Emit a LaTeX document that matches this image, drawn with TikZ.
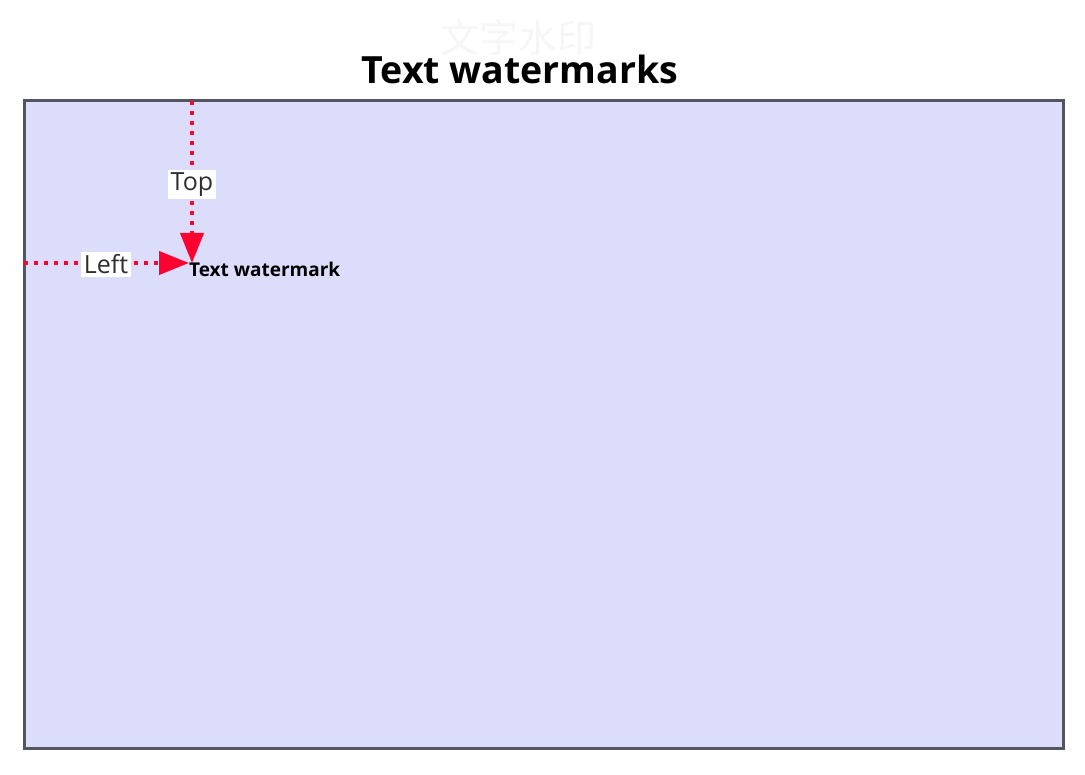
\documentclass[tikz,border=0pt]{standalone}
\usepackage{fontspec}
\setmainfont{Open Sans}
\newfontfamily\cjkf{Noto Sans CJK SC}
\usetikzlibrary{arrows.meta}
\definecolor{panelfill}{HTML}{DCDCFB}
\definecolor{panelborder}{HTML}{55555F}
\definecolor{markred}{HTML}{FF0030}
\definecolor{labeltext}{HTML}{2E2E2E}
\definecolor{ghost}{HTML}{F6F6F6}
\tikzset{
  panel/.style={draw=panelborder, fill=panelfill, line width=3pt},
  guide/.style={draw=markred, line width=4pt, dash pattern=on 4pt off 6pt, -{Triangle[length=30pt,width=23pt,fill=markred]}},
  guidelabel/.style={fill=white, text=labeltext, font=\fontsize{25}{28}\selectfont, inner sep=2.5pt},
}
\begin{document}
\begin{tikzpicture}[x=1pt,y=-1pt]
\useasboundingbox (0,0) rectangle (1085,775);
\node[text=ghost, font=\cjkf\fontsize{39}{42}\selectfont] (ghosttitle) at (518,38) {文字水印};
\node[font=\bfseries\fontsize{37.5}{42}\selectfont] (title) at (520,69) {Text watermarks};
\draw[panel] (24,101) rectangle (1063,748);
\coordinate (topstart) at (192,101);
\coordinate (topend) at (192,263);
\coordinate (leftstart) at (24,263);
\coordinate (leftend) at (189,263);
\draw[guide] (topstart) -- (topend);
\draw[guide] (leftstart) -- (leftend);
\node[guidelabel] (toplabel) at (192,184.5) {Top};
\node[guidelabel] (leftlabel) at (106,264.5) {Left};
\node[anchor=base west, font=\bfseries\fontsize{19}{22}\selectfont, inner sep=0pt] (wm) at (189,277) {Text watermark};
\end{tikzpicture}
\end{document}
